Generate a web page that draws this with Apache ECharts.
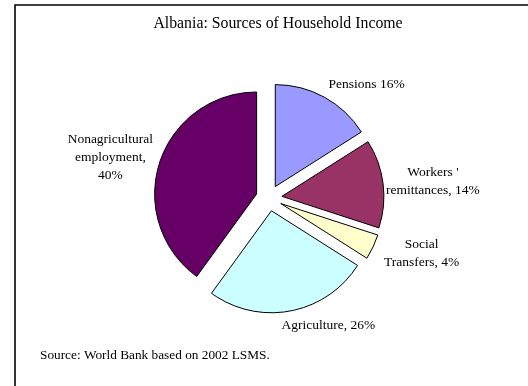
<!DOCTYPE html>
<html>
<head>
<meta charset="utf-8">
<script src="https://cdn.jsdelivr.net/npm/echarts@6/dist/echarts.min.js"></script>
<style>
  html, body { margin: 0; padding: 0; background: #ffffff; }
  #chart { width: 528px; height: 386px; }
</style>
</head>
<body>
<div id="chart"></div>
<script>
// Income sources, in percent of household income
const categories = ["Pensions", "Workers '\nremittances", "Social\nTransfers", "Agriculture", "Nonagricultural\nemployment"];
const shares = [16, 14, 4, 26, 40];
const joiners = [' ', ', ', ', ', ', ', ',\n'];
const sliceColors = ['#9999FF', '#993366', '#FFFFCC', '#CCFFFF', '#660066'];

// label anchor points (centre of each label block)
const labelAnchors = [[366, 82], [437, 183], [417, 257], [359, 312], [102, 199]];

const FONT = '"Liberation Serif", "Times New Roman", serif';

const chart = echarts.init(document.getElementById('chart'), null, { renderer: 'canvas' });

chart.setOption({
  backgroundColor: '#ffffff',
  animation: false,
  title: {
    text: 'Albania: Sources of Household Income',
    left: 273,
    top: 11,
    textAlign: 'center',
    textStyle: { fontFamily: FONT, fontSize: 15.8, fontWeight: 'normal', color: '#000' }
  },
  graphic: [
    {
      type: 'rect',
      shape: { x: 15, y: 5, width: 700, height: 600 },
      style: { fill: 'none', stroke: '#000', lineWidth: 1.6 },
      silent: true
    },
    {
      type: 'text',
      left: 40,
      top: 349,
      style: { text: 'Source: World Bank based on 2002 LSMS.', font: '13.3px ' + FONT, fill: '#000' }
    }
  ],
  series: [{
    type: 'pie',
    center: [269, 198],
    radius: 102,
    startAngle: 90,
    clockwise: true,
    selectedMode: 'multiple',
    selectedOffset: 13,
    itemStyle: { borderColor: '#000', borderWidth: 1 },
    emphasis: { disabled: true },
    select: { itemStyle: { borderColor: '#000', borderWidth: 1 } },
    label: {
      show: true,
      position: 'outside',
      fontFamily: FONT,
      fontSize: 13.5,
      lineHeight: 18,
      color: '#000',
      align: 'center',
      formatter: p => p.name + joiners[p.dataIndex] + p.value + '%'
    },
    labelLine: { show: false },
    labelLayout: p => ({
      x: labelAnchors[p.dataIndex][0],
      y: labelAnchors[p.dataIndex][1],
      align: 'center',
      verticalAlign: 'middle'
    }),
    data: categories.map((c, i) => ({
      name: c,
      value: shares[i],
      selected: true,
      itemStyle: { color: sliceColors[i] }
    }))
  }]
});
</script>
</body>
</html>
